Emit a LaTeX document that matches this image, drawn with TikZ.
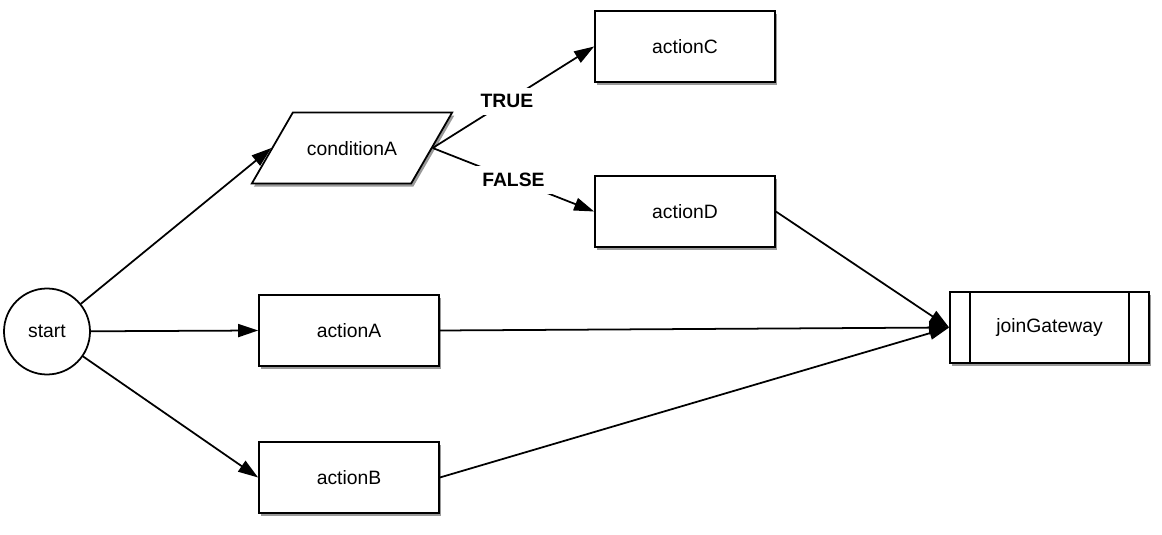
\documentclass[tikz,border=0pt]{standalone}
\usepackage{fontspec}
\setmainfont{Liberation Sans}
\usetikzlibrary{arrows.meta, positioning, calc, shapes.geometric, shadows}

\begin{document}
\begin{tikzpicture}[
    font=\fontsize{11}{13}\selectfont,
    flow/.style={-{Triangle[length=4mm, width=2.6mm]}, line width=1pt},
    soft/.style={general shadow={shadow xshift=1.2pt, shadow yshift=-1.8pt, fill=black!40}},
    task/.style={draw, line width=1pt, fill=white, minimum width=3.6cm, minimum height=1.42cm, soft},
    cond/.style={draw, line width=1pt, fill=white, shape=trapezium, trapezium left angle=60,
        trapezium right angle=120, text height=8pt, text depth=0pt, inner xsep=0.28cm,
        inner ysep=0.57cm, soft},
    branch/.style={fill=white, font=\fontsize{11}{13}\selectfont\bfseries, inner sep=4pt},
]
\useasboundingbox (0,0) rectangle (23.24,10.68);

\node[draw, circle, line width=1pt, minimum size=1.72cm, inner sep=0pt] (start) at (0.94,4.05) {start};

% ramas desde el inicio
\node[cond] (condA) at (7.04,7.72) {conditionA};
\node[task] (actA) at (6.98,4.07) {actionA};
\node[task] (actB) at (6.98,1.13) {actionB};

% resultado de la condicion
\node[task] (actC) at (13.7,9.75) {actionC};
\node[task] (actD) at (13.7,6.45) {actionD};

% union
\node[task, minimum width=3.98cm] (join) at (20.99,4.13) {joinGateway};
\draw[line width=1pt] ($(join.north west)+(0.42,0)$) -- ($(join.south west)+(0.42,0)$);
\draw[line width=1pt] ($(join.north east)+(-0.42,0)$) -- ($(join.south east)+(-0.42,0)$);

% conexiones
\draw[flow] (start) -- (condA.west);
\draw[flow] (start) -- (actA.west);
\draw[flow] (start) -- (actB.west);
\draw[flow] (condA.east) -- node[branch, pos=0.46] {TRUE} (actC.west);
\draw[flow] (condA.east) -- node[branch] {FALSE} (actD.west);
\draw[flow] (actD.east) -- (join.west);
\draw[flow] (actA.east) -- (join.west);
\draw[flow] (actB.east) -- (join.west);

\end{tikzpicture}
\end{document}
